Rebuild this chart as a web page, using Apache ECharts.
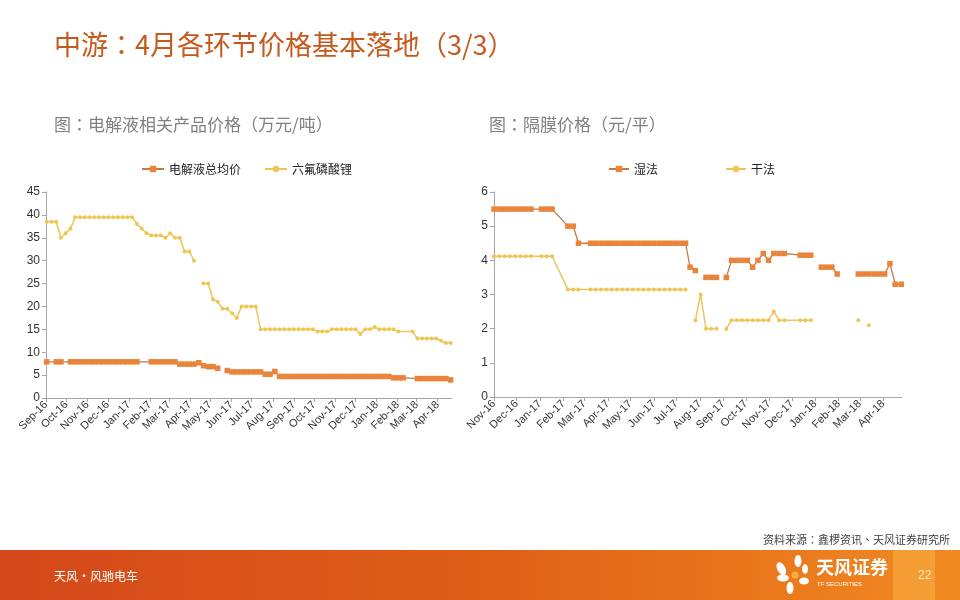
<!DOCTYPE html>
<html><head><meta charset="utf-8">
<script src="https://cdn.jsdelivr.net/npm/echarts@6/dist/echarts.min.js"></script>
<style>html,body{margin:0;padding:0;background:#fff}#c{width:960px;height:600px}</style>
</head><body><div id="c"></div>
<script>
// 'skip' = no observation (line is drawn through), null = line break
const S = 'skip';

// ---------- left chart: 电解液相关产品价格（万元/吨） ----------
const leftDates = [
 '2016-09-02','2016-09-09','2016-09-16','2016-09-23','2016-09-30','2016-10-07','2016-10-14','2016-10-21','2016-10-28',
 '2016-11-04','2016-11-11','2016-11-18','2016-11-25','2016-12-02','2016-12-09','2016-12-16','2016-12-23','2016-12-30',
 '2017-01-06','2017-01-13','2017-01-20','2017-01-27','2017-02-03','2017-02-10','2017-02-17','2017-02-24',
 '2017-03-03','2017-03-10','2017-03-17','2017-03-24','2017-03-31','2017-04-07','2017-04-14','2017-04-21','2017-04-28',
 '2017-05-05','2017-05-12','2017-05-19','2017-05-26','2017-06-02','2017-06-09','2017-06-16','2017-06-23','2017-06-30',
 '2017-07-07','2017-07-14','2017-07-21','2017-07-28','2017-08-04','2017-08-11','2017-08-18','2017-08-25',
 '2017-09-01','2017-09-08','2017-09-15','2017-09-22','2017-09-29','2017-10-06','2017-10-13','2017-10-20','2017-10-27',
 '2017-11-03','2017-11-10','2017-11-17','2017-11-24','2017-12-01','2017-12-08','2017-12-15','2017-12-22','2017-12-29',
 '2018-01-05','2018-01-12','2018-01-19','2018-01-26','2018-02-02','2018-02-09','2018-02-16','2018-02-23',
 '2018-03-02','2018-03-09','2018-03-16','2018-03-23','2018-03-30','2018-04-06','2018-04-13','2018-04-20'
];
const electrolyteAvg = [
 7.9, S, 7.9, 7.9, S, 7.9, 7.9, 7.9, 7.9,
 7.9, 7.9, 7.9, 7.9, 7.9, 7.9, 7.9, 7.9, 7.9,
 7.9, 7.9, S, S, 7.9, 7.9, 7.9, 7.9,
 7.9, 7.9, 7.4, 7.4, 7.4, 7.4, 7.7, 7.05, 6.85,
 6.85, 6.5, null, 6.0, 5.7, 5.7, 5.7, 5.7, 5.7,
 5.7, 5.7, 5.2, 5.2, 5.8, 4.7, 4.7, 4.7, 4.7,
 4.7, 4.7, 4.7, 4.7, 4.7, 4.7, 4.7, 4.7, 4.7,
 4.7, 4.7, 4.7, 4.7, 4.7, 4.7, 4.7, 4.7, 4.7,
 4.7, 4.7, 4.4, 4.4, 4.4, S, S, 4.25,
 4.25, 4.25, 4.25, 4.25, 4.25, 4.25, 3.95, 3.95
];
const lipf6 = [
 38.5, 38.5, 38.5, 35, 36, 37, 39.5, 39.5, 39.5,
 39.5, 39.5, 39.5, 39.5, 39.5, 39.5, 39.5, 39.5, 39.5,
 39.5, 38, 37, 36, 35.5, 35.5, 35.5, 35,
 36, 35, 35, 32, 32, 30, null, 25, 25,
 21.5, 21, 19.5, 19.5, 18.5, 17.5, 20, 20, 20,
 20, 15, 15, 15, 15, 15, 15, 15, 15,
 15, 15, 15, 15, 14.5, 14.5, 14.5, 15, 15,
 15, 15, 15, 15, 14, 15, 15, 15.5, 15,
 15, 15, 15, 14.5, S, S, 14.5, 13,
 13, 13, 13, 13, 12.5, 12, 12
];
const leftYTicks = {min: 0, max: 45, step: 5};

// ---------- right chart: 隔膜价格（元/平） ----------
const wetDates = [
 '2016-11-01','2016-11-08','2016-11-15','2016-11-22','2016-11-29','2016-12-06','2016-12-13','2016-12-20',
 '2017-01-03','2017-01-10','2017-01-17','2017-02-07','2017-02-14','2017-02-21',
 '2017-03-09','2017-03-16','2017-03-23','2017-03-30','2017-04-06','2017-04-13','2017-04-20','2017-04-27',
 '2017-05-04','2017-05-11','2017-05-18','2017-05-25','2017-06-01','2017-06-08','2017-06-15','2017-06-22',
 '2017-06-29','2017-07-06','2017-07-13','2017-07-19','2017-07-26','2017-08-02',
 '2017-08-09','2017-08-16','2017-08-23','2017-08-30',
 '2017-09-05','2017-09-12','2017-09-19','2017-09-26','2017-10-03','2017-10-10','2017-10-17','2017-10-24','2017-10-31',
 '2017-11-07','2017-11-14','2017-11-21','2017-12-12','2017-12-19','2017-12-26','2018-01-02',
 '2018-01-09','2018-01-16','2018-01-23','2018-01-30','2018-02-13',
 '2018-02-27','2018-03-06','2018-03-13','2018-03-20','2018-03-27','2018-04-03','2018-04-10','2018-04-17','2018-04-25'
];
const wetProcess = [
 5.5, 5.5, 5.5, 5.5, 5.5, 5.5, 5.5, 5.5,
 5.5, 5.5, 5.5, 5.0, 5.0, 4.5,
 4.5, 4.5, 4.5, 4.5, 4.5, 4.5, 4.5, 4.5,
 4.5, 4.5, 4.5, 4.5, 4.5, 4.5, 4.5, 4.5,
 4.5, 4.5, 4.5, 3.8, 3.7, null,
 3.5, 3.5, 3.5, null,
 3.5, 4.0, 4.0, 4.0, 4.0, 3.8, 4.0, 4.2, 4.0,
 4.2, 4.2, 4.2, 4.15, 4.15, 4.15, null,
 3.8, 3.8, 3.8, 3.6, null,
 3.6, 3.6, 3.6, 3.6, 3.6, 3.6, 3.9, 3.3, 3.3
];
const dryDates = [
 '2016-11-01','2016-11-08','2016-11-15','2016-11-22','2016-11-29','2016-12-06','2016-12-13','2016-12-20',
 '2017-01-03','2017-01-10','2017-01-17','2017-02-07','2017-02-14','2017-02-21',
 '2017-03-09','2017-03-16','2017-03-23','2017-03-30','2017-04-06','2017-04-13','2017-04-20','2017-04-27',
 '2017-05-04','2017-05-11','2017-05-18','2017-05-25','2017-06-01','2017-06-08','2017-06-15','2017-06-22',
 '2017-06-29','2017-07-06','2017-07-13','2017-07-19','2017-07-26','2017-08-02',
 '2017-08-09','2017-08-16','2017-08-23','2017-08-30',
 '2017-09-05','2017-09-12','2017-09-19','2017-09-26','2017-10-03','2017-10-10','2017-10-17','2017-10-24','2017-10-31',
 '2017-11-07','2017-11-14','2017-11-21','2017-12-12','2017-12-19','2017-12-26','2018-01-02',
 '2018-02-27','2018-03-06','2018-03-13'
];
const dryProcess = [
 4.12, 4.12, 4.12, 4.12, 4.12, 4.12, 4.12, 4.12,
 4.12, 4.12, 4.12, 3.15, 3.15, 3.15,
 3.15, 3.15, 3.15, 3.15, 3.15, 3.15, 3.15, 3.15,
 3.15, 3.15, 3.15, 3.15, 3.15, 3.15, 3.15, 3.15,
 3.15, 3.15, 3.15, null, 2.25, 3.0,
 2.0, 2.0, 2.0, null,
 2.0, 2.25, 2.25, 2.25, 2.25, 2.25, 2.25, 2.25, 2.25,
 2.5, 2.25, 2.25, 2.25, 2.25, 2.25, null,
 2.25, null, 2.1
];
const rightYTicks = {min: 0, max: 6, step: 1};

const MONTHS = ['Jan','Feb','Mar','Apr','May','Jun','Jul','Aug','Sep','Oct','Nov','Dec'];

function pairs(dates, vals) {
  const out = [];
  dates.forEach((d, i) => { if (vals[i] !== S) out.push([d, vals[i]]); });
  return out;
}
function monthLabel(v) {
  const d = new Date(v);
  if (d.getDate() !== 1) return '';
  return MONTHS[d.getMonth()] + '-' + String(d.getFullYear()).slice(2);
}

const AX = '#A6A6A6';
const LATIN = '"Liberation Sans", Arial, sans-serif';
const CJK = '"Noto Sans CJK SC", "Noto Sans", sans-serif';
const CJKP = '"Noto Sans CJK TC", "Noto Sans CJK SC", sans-serif';
const DAY = 24 * 3600 * 1000;

function xAxisCfg(idx, min, max) {
  return {
    type: 'time', gridIndex: idx, min: min, max: max,
    splitNumber: 20, minInterval: 28 * DAY, maxInterval: 31 * DAY,
    axisLine: {show: true, lineStyle: {color: AX, width: 1}},
    axisTick: {show: true, length: 4, lineStyle: {color: AX}},
    splitLine: {show: false},
    minorTick: {show: false},
    axisLabel: {rotate: 45, fontSize: 11, color: '#333', fontFamily: LATIN, margin: 5,
      formatter: monthLabel, hideOverlap: false, showMinLabel: true, showMaxLabel: false,
      overflow: 'none', width: 200}
  };
}
function yAxisCfg(idx, t) {
  return {
    type: 'value', gridIndex: idx, min: t.min, max: t.max, interval: t.step,
    axisLine: {show: true, lineStyle: {color: AX, width: 1}},
    axisTick: {show: true, length: 4, lineStyle: {color: AX}},
    splitLine: {show: false},
    axisLabel: {fontSize: 12, color: '#333', fontFamily: LATIN, margin: 6}
  };
}

const ORANGE_LINE = '#C17A4D', ORANGE_PT = '#E9843A';
const YELLOW_LINE = '#EBC55C', YELLOW_PT = '#EFC653';

function orangeSeries(name, xi, data) {
  return {name, type: 'line', xAxisIndex: xi, yAxisIndex: xi, data,
    symbol: 'rect', symbolSize: 5.5, showSymbol: true, showAllSymbol: true, connectNulls: false,
    lineStyle: {color: ORANGE_LINE, width: 1.3}, itemStyle: {color: ORANGE_PT}, z: 3};
}
function yellowSeries(name, xi, data) {
  return {name, type: 'line', xAxisIndex: xi, yAxisIndex: xi, data,
    symbol: 'circle', symbolSize: 4, showSymbol: true, showAllSymbol: true, connectNulls: false,
    lineStyle: {color: YELLOW_LINE, width: 1.5}, itemStyle: {color: YELLOW_PT}, z: 2};
}

const chart = echarts.init(document.getElementById('c'), null, {renderer: 'canvas'});
chart.setOption({
  animation: false,
  backgroundColor: '#fff',
  grid: [
    {left: 46, right: 508, top: 192, bottom: 202},
    {left: 494, right: 58, top: 192, bottom: 203}
  ],
  xAxis: [xAxisCfg(0, '2016-09-01', '2018-04-22'), xAxisCfg(1, '2016-11-01', '2018-04-26')],
  yAxis: [yAxisCfg(0, leftYTicks), yAxisCfg(1, rightYTicks)],
  legend: [
    {left: 141, top: 163, padding: 0, itemWidth: 22, itemHeight: 8, itemGap: 23,
     data: ['电解液总均价', '六氟磷酸锂'], textStyle: {fontSize: 12, color: '#222', fontFamily: CJK}},
    {left: 608, top: 163, padding: 0, itemWidth: 20, itemHeight: 8, itemGap: 67,
     data: ['湿法', '干法'], textStyle: {fontSize: 12, color: '#222', fontFamily: CJK}}
  ],
  series: [
    orangeSeries('电解液总均价', 0, pairs(leftDates, electrolyteAvg)),
    yellowSeries('六氟磷酸锂', 0, pairs(leftDates, lipf6)),
    orangeSeries('湿法', 1, pairs(wetDates, wetProcess)),
    yellowSeries('干法', 1, pairs(dryDates, dryProcess))
  ],
  graphic: [
    {type: 'text', left: 54, top: 31, style: {text: '中游：4月各环节价格基本落地（3/3）', font: '27px ' + CJKP, fill: '#C65A1E'}},
    {type: 'text', left: 54, top: 116, style: {text: '图：电解液相关产品价格（万元/吨）', font: '17px ' + CJKP, fill: '#808080'}},
    {type: 'text', left: 489, top: 116, style: {text: '图：隔膜价格（元/平）', font: '17px ' + CJKP, fill: '#808080'}},
    {type: 'text', right: 10, top: 534, style: {text: '资料来源：鑫椤资讯、天风证券研究所', font: '11px ' + CJKP, fill: '#404040'}},
    {type: 'rect', shape: {x: 0, y: 550, width: 960, height: 50}, silent: true,
     style: {fill: new echarts.graphic.LinearGradient(0, 0, 1, 0, [
       {offset: 0, color: '#D4481B'}, {offset: 0.5, color: '#DE5F18'},
       {offset: 0.8, color: '#EA781C'}, {offset: 1, color: '#F08A22'}])}},
    {type: 'rect', shape: {x: 893, y: 550, width: 42, height: 50}, silent: true, style: {fill: 'rgba(255,200,90,0.35)'}},
    {type: 'text', left: 54, top: 570, style: {text: '天风·风驰电车', font: '12px ' + CJK, fill: '#fff'}},
    {type: 'text', left: 918, top: 570, style: {text: '22', font: '12px ' + LATIN, fill: '#FBE6CF'}},
    // logo petals
    {type: 'group', x: 795, y: 575, silent: true, children: [
      {type: 'ellipse', shape: {cx: -9, cy: -12, rx: 4, ry: 7}, rotation: 0.5, style: {fill: '#fff'}},
      {type: 'ellipse', shape: {cx: 3, cy: -14, rx: 3.5, ry: 6}, style: {fill: '#fff'}},
      {type: 'ellipse', shape: {cx: 10, cy: -6, rx: 3, ry: 5}, style: {fill: '#fff'}},
      {type: 'ellipse', shape: {cx: -12, cy: 3, rx: 6, ry: 3.5}, style: {fill: '#fff'}},
      {type: 'ellipse', shape: {cx: 9, cy: 6, rx: 5, ry: 3.5}, style: {fill: '#fff'}},
      {type: 'ellipse', shape: {cx: -5, cy: 13, rx: 3.5, ry: 6}, style: {fill: '#fff'}},
      {type: 'circle', shape: {cx: 0, cy: 0, r: 3.5}, style: {fill: '#F5B041'}}
    ]},
    {type: 'text', left: 816, top: 558, style: {text: '天风证券', font: 'bold 18px ' + CJK, fill: '#fff'}},
    {type: 'text', left: 817, top: 581, style: {text: 'TF SECURITIES', font: '6px ' + LATIN, fill: '#fff'}}
  ]
});
</script>
</body></html>
